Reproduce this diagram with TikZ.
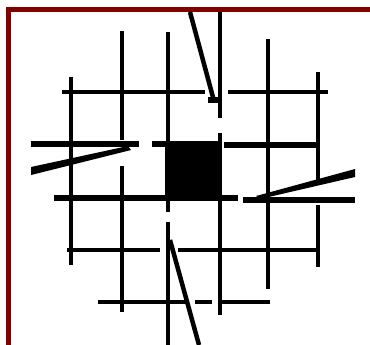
\documentclass[tikz,border=0pt]{standalone}
\definecolor{frame}{RGB}{128,0,0}
\begin{document}
\begin{tikzpicture}[x=1pt,y=-1pt,
  ln/.style={line width=4.5pt},
  thk/.style={line width=6pt}]
\useasboundingbox (0,0) rectangle (370,345);
\fill[white] (0,0) rectangle (370,345);
% frame
\fill[frame] (6,7) rectangle (370,12);
\fill[frame] (6,7) rectangle (11,345);
% verticals
\draw[ln] (71,77) -- (71,265);
\draw[ln] (122,31) -- (122,140);
\draw[ln] (122,166) -- (122,312);
\draw[ln] (168,32) -- (168,212);
\draw[ln] (168,222) -- (168,345);
\draw[ln] (220,12) -- (220,118);
\draw[ln] (220,133) -- (220,315);
\draw[ln] (268,39) -- (268,289);
\draw[ln] (318,72) -- (318,180);
\draw[ln] (318,205) -- (318,267);
% horizontals
\draw[ln] (62,92) -- (205,92);
\draw[ln] (228,92) -- (328,92);
\draw[thk] (31,144) -- (139,144);
\draw[thk] (152,144) -- (166,144);
\draw[thk] (224,145) -- (318,145);
\draw[thk] (54,198) -- (238,198);
\draw[thk] (243,200) -- (355,200);
\draw[ln] (67,250) -- (160,250);
\draw[ln] (178,250) -- (318,250);
\draw[ln] (98,302) -- (186,302);
\draw[ln] (195,302) -- (212,302);
\draw[ln] (218,302) -- (270,302);
% black square
\fill (165,141) rectangle (221,197);
% wedges
\fill (31,167) -- (128,146) -- (131,150) -- (31,175) -- cycle;
\fill (256,196) -- (355,169) -- (355,177) -- (260,199) -- cycle;
% diagonals
\draw[ln] (190,12) -- (214,101);
\fill (208,97) rectangle (222,103);
\draw[ln] (170,240) -- (199,345);
\end{tikzpicture}
\end{document}
